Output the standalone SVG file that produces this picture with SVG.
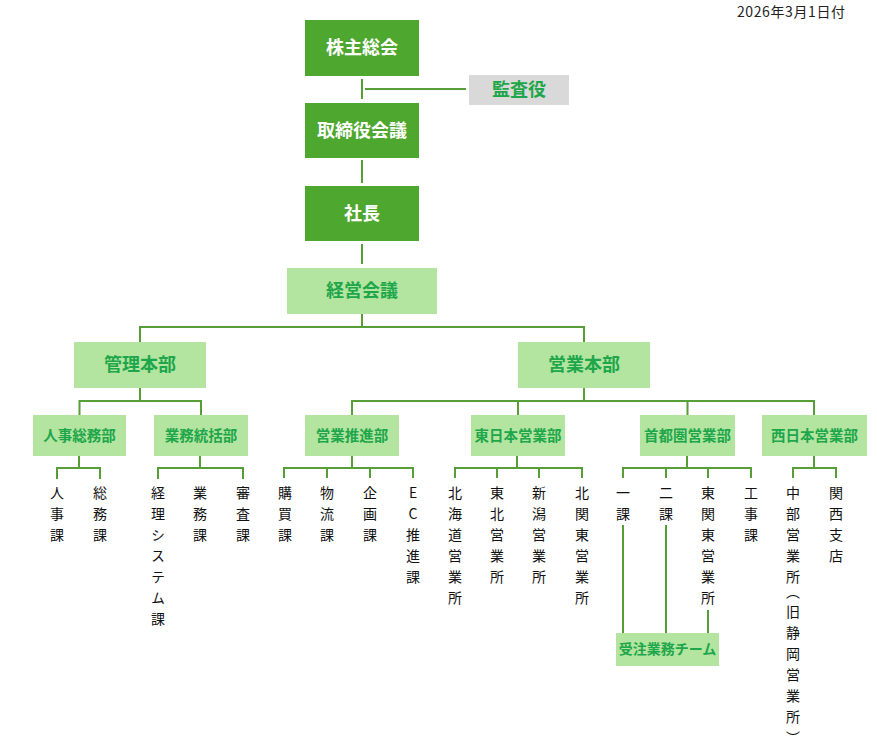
<svg xmlns="http://www.w3.org/2000/svg" width="877" height="744" viewBox="0 0 877 744">
<style>
.dk{fill:#4ea72e}
.lt{fill:#b3e5a1}
.gy{fill:#d9d9d9}
.tw{font-family:"Noto Sans CJK JP","Noto Sans",sans-serif;font-weight:bold;font-size:18px;fill:#ffffff;text-anchor:middle;dominant-baseline:central}
.tg{font-family:"Noto Sans CJK JP","Noto Sans",sans-serif;font-weight:bold;font-size:18px;fill:#1ea64a;text-anchor:middle;dominant-baseline:central}
.ts{font-size:14.5px}
.v{font-family:"Noto Sans CJK JP","Noto Sans",sans-serif;font-size:14px;fill:#111;writing-mode:vertical-rl;letter-spacing:7px}
.up{text-orientation:upright}
.vp{font-feature-settings:"vpal"}
.cn{fill:none;stroke:#559e38;stroke-width:2}
</style>
<text x="845" y="17" font-family="'Noto Sans CJK JP','Noto Sans',sans-serif" font-size="14" fill="#222" text-anchor="end" textLength="108" lengthAdjust="spacing">2026年3月1日付</text>
<g id="connectors" class="cn">
<path d="M362 79V99M365 89H466"/>
<path d="M362 160V183M362 244V264M362 314V327M140 342V327H584V342"/>
<path d="M140 388V401M79.5 415V401H201V415"/>
<path d="M584 388V401M352 415V401H814V415M518 401V415M687.5 401V415"/>
<path d="M79 456V468M57 479V468H100V479"/>
<path d="M200 456V468M158 479V468H243V479"/>
<path d="M352 456V468M284 478V468H413V478M327 468V478M370 468V478"/>
<path d="M517 456V468M455 478V468H582V478M497 468V478M539 468V478"/>
<path d="M687 456V468M623 478V468H751V478M666 468V478M708 468V478"/>
<path d="M814 456V468M793 478V468H836V478"/>
<path d="M623 525V633M666 525V633M708 610V633"/>
</g>
<g id="kabunushi"><rect class="dk" x="305" y="20" width="114" height="56"/><text class="tw" x="362" y="46">株主総会</text></g>
<g id="kansa"><rect class="gy" x="469" y="75" width="100" height="30"/><text class="tg" x="519" y="88">監査役</text></g>
<g id="torishimari"><rect class="dk" x="305" y="103" width="114" height="55"/><text class="tw" x="362" y="128.5">取締役会議</text></g>
<g id="shacho"><rect class="dk" x="305" y="186" width="114" height="55"/><text class="tw" x="362" y="211.5">社長</text></g>
<g id="keiei"><rect class="lt" x="287" y="268" width="150" height="46"/><text class="tg" x="362" y="289">経営会議</text></g>
<g id="kanri"><rect class="lt" x="74" y="342" width="132" height="46"/><text class="tg" x="140" y="363">管理本部</text></g>
<g id="eigyo"><rect class="lt" x="518" y="342" width="132" height="46"/><text class="tg" x="584" y="363">営業本部</text></g>
<g id="jinji"><rect class="lt" x="33" y="415" width="93" height="41"/><text class="tg ts" x="79.5" y="434">人事総務部</text></g>
<g id="gyomu"><rect class="lt" x="154" y="415" width="94" height="41"/><text class="tg ts" x="201" y="434">業務統括部</text></g>
<g id="suishin"><rect class="lt" x="305" y="415" width="94" height="41"/><text class="tg ts" x="352" y="434">営業推進部</text></g>
<g id="higashi"><rect class="lt" x="471" y="415" width="94" height="41"/><text class="tg ts" x="518" y="434">東日本営業部</text></g>
<g id="shutoken"><rect class="lt" x="640" y="415" width="95" height="41"/><text class="tg ts" x="687.5" y="434">首都圏営業部</text></g>
<g id="nishi"><rect class="lt" x="762" y="415" width="105" height="41"/><text class="tg ts" x="814.5" y="434">西日本営業部</text></g>
<g id="juchu"><rect class="lt" x="616" y="633" width="103" height="33"/><text class="tg" style="font-size:14px" x="667.5" y="648">受注業務チーム</text></g>
<g id="ka-jinji"><text class="v" x="57" y="486">人事課</text></g>
<g id="ka-somu"><text class="v" x="100" y="486">総務課</text></g>
<g id="ka-keiri"><text class="v" x="158" y="486">経理システム課</text></g>
<g id="ka-gyomu"><text class="v" x="200" y="486">業務課</text></g>
<g id="ka-shinsa"><text class="v" x="243" y="486">審査課</text></g>
<g id="ka-kobai"><text class="v" x="285" y="486">購買課</text></g>
<g id="ka-butsuryu"><text class="v" x="327" y="486">物流課</text></g>
<g id="ka-kikaku"><text class="v" x="370" y="486">企画課</text></g>
<g id="ka-ec"><text class="v up" x="413" y="486">EC推進課</text></g>
<g id="sho-hokkaido"><text class="v" x="455" y="486">北海道営業所</text></g>
<g id="sho-tohoku"><text class="v" x="497" y="486">東北営業所</text></g>
<g id="sho-niigata"><text class="v" x="539" y="486">新潟営業所</text></g>
<g id="sho-kitakanto"><text class="v" x="582" y="486">北関東営業所</text></g>
<g id="ka-ichi"><text class="v" x="623" y="486">一課</text></g>
<g id="ka-ni"><text class="v" x="666" y="486">二課</text></g>
<g id="sho-higashikanto"><text class="v" x="708" y="486">東関東営業所</text></g>
<g id="ka-koji"><text class="v" x="751" y="486">工事課</text></g>
<g id="sho-chubu"><text class="v vp" x="793" y="486">中部営業所（旧静岡営業所）</text></g>
<g id="shiten-kansai"><text class="v" x="836" y="486">関西支店</text></g>
</svg>
